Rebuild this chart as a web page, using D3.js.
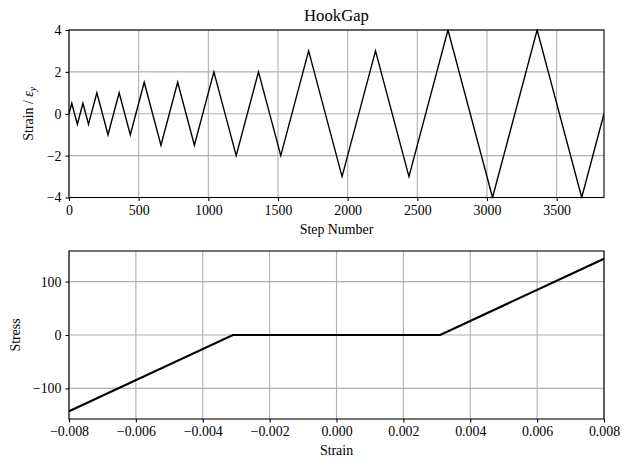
<!DOCTYPE html>
<html>
<head>
<meta charset="utf-8">
<script src="https://cdn.jsdelivr.net/npm/d3@7/dist/d3.min.js"></script>
<style>
  html, body { margin: 0; padding: 0; background: #fff; }
  svg text { font-family: "Liberation Serif", "DejaVu Serif", serif; fill: #000; }
</style>
</head>
<body>
<svg id="chart" width="630" height="469"></svg>
<script>
// ---- Data ----
// Top panel: strain history turning points (step number, strain / eps_y)
const historySteps  = [0, 20, 60, 100, 140, 200, 280, 360, 440, 540, 660, 780, 900, 1040, 1200, 1360, 1520, 1720, 1960, 2200, 2440, 2720, 3040, 3360, 3680, 3840];
const historyStrain = [0, 0.5, -0.5, 0.5, -0.5, 1, -1, 1, -1, 1.5, -1.5, 1.5, -1.5, 2, -2, 2, -2, 3, -3, 3, -3, 4, -4, 4, -4, 0];
const topXTicks = [0, 500, 1000, 1500, 2000, 2500, 3000, 3500];
const topYTicks = [-4, -2, 0, 2, 4];

// Bottom panel: stress-strain response (hook gap)
const responseStrain = [-0.008, -0.0031, 0.0031, 0.008];
const responseStress = [-143, 0, 0, 143];
const botXTicks = [-0.008, -0.006, -0.004, -0.002, 0.000, 0.002, 0.004, 0.006, 0.008];
const botYTicks = [-100, 0, 100];

const title = "HookGap";

// ---- Layout ----
const svg = d3.select("#chart");
const left = 69, right = 604;
const top1 = 30, bot1 = 197.5;
const top2 = 251, bot2 = 419;
const fs = 13.9;
const gridColor = "#b0b0b0";
const minus = s => s.replace(/-/g, "\u2212");

function panel(xScale, yScale, xTicks, yTicks, xFmt, yFmt, y0, y1) {
  const g = svg.append("g");
  // grid
  g.selectAll(".gx").data(xTicks).enter().append("line")
    .attr("x1", d => xScale(d)).attr("x2", d => xScale(d))
    .attr("y1", y0).attr("y2", y1)
    .attr("stroke", gridColor).attr("stroke-width", 1.1);
  g.selectAll(".gy").data(yTicks).enter().append("line")
    .attr("x1", left).attr("x2", right)
    .attr("y1", d => yScale(d)).attr("y2", d => yScale(d))
    .attr("stroke", gridColor).attr("stroke-width", 1.1);
  // axes
  const xAxis = d3.axisBottom(xScale).tickValues(xTicks).tickSize(3.5).tickPadding(4).tickFormat(d => minus(xFmt(d)));
  const yAxis = d3.axisLeft(yScale).tickValues(yTicks).tickSize(3.5).tickPadding(4).tickFormat(d => minus(yFmt(d)));
  const gx = g.append("g").attr("transform", `translate(0,${y1})`).call(xAxis);
  const gy = g.append("g").attr("transform", `translate(${left},0)`).call(yAxis);
  [gx, gy].forEach(a => {
    a.select(".domain").remove();
    a.selectAll("line").attr("stroke", "#000").attr("stroke-width", 1.1);
    a.selectAll("text").style("font-size", fs + "px").attr("fill", "#000");
  });
  return g;
}

function frame(y0, y1) {
  svg.append("rect").attr("x", left).attr("y", y0)
    .attr("width", right - left).attr("height", y1 - y0)
    .attr("fill", "none").attr("stroke", "#000").attr("stroke-width", 1.1);
}

// ---- Top panel ----
const x1 = d3.scaleLinear().domain([0, 3840]).range([left, right]);
const y1 = d3.scaleLinear().domain([-4, 4]).range([bot1, top1]);
panel(x1, y1, topXTicks, topYTicks, d3.format("d"), d3.format("d"), top1, bot1);

const histData = historySteps.map((s, i) => [s, historyStrain[i]]);
svg.append("defs").append("clipPath").attr("id", "clip1")
  .append("rect").attr("x", left).attr("y", top1 - 1).attr("width", right - left).attr("height", bot1 - top1 + 2);
svg.append("path").datum(histData)
  .attr("clip-path", "url(#clip1)")
  .attr("d", d3.line().x(d => x1(d[0])).y(d => y1(d[1])))
  .attr("fill", "none").attr("stroke", "#000").attr("stroke-width", 1.4);
frame(top1, bot1);

svg.append("text").attr("x", (left + right) / 2).attr("y", 21)
  .attr("text-anchor", "middle").style("font-size", "16.7px").text(title);
svg.append("text").attr("x", (left + right) / 2).attr("y", 234)
  .attr("text-anchor", "middle").style("font-size", fs + "px").text("Step Number");
const yl1 = svg.append("text")
  .attr("transform", `translate(33,${(top1 + bot1) / 2}) rotate(-90)`)
  .attr("text-anchor", "middle").style("font-size", fs + "px");
yl1.append("tspan").text("Strain / ");
yl1.append("tspan").style("font-style", "italic").text("\u03B5");
yl1.append("tspan").style("font-style", "italic").style("font-size", "9.7px").attr("dy", 3).text("y");

// ---- Bottom panel ----
const x2 = d3.scaleLinear().domain([-0.008, 0.008]).range([left, right]);
const y2 = d3.scaleLinear().domain([-157.3, 157.3]).range([bot2, top2]);
panel(x2, y2, botXTicks, botYTicks, d3.format(".3f"), d3.format("d"), top2, bot2);

const respData = responseStrain.map((s, i) => [s, responseStress[i]]);
svg.append("path").datum(respData)
  .attr("d", d3.line().x(d => x2(d[0])).y(d => y2(d[1])))
  .attr("fill", "none").attr("stroke", "#000").attr("stroke-width", 2.2);
frame(top2, bot2);

svg.append("text").attr("x", (left + right) / 2).attr("y", 455)
  .attr("text-anchor", "middle").style("font-size", fs + "px").text("Strain");
svg.append("text")
  .attr("transform", `translate(20,${(top2 + bot2) / 2}) rotate(-90)`)
  .attr("text-anchor", "middle").style("font-size", fs + "px").text("Stress");
</script>
</body>
</html>
